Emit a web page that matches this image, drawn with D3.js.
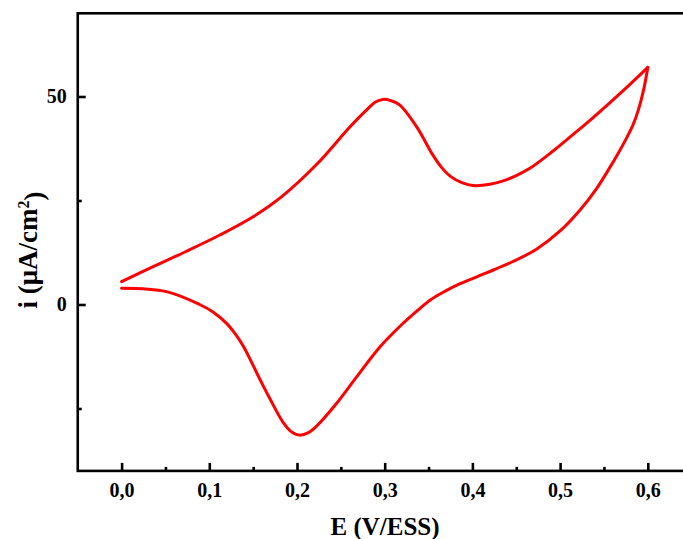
<!DOCTYPE html>
<html>
<head>
<meta charset="utf-8">
<script src="https://cdn.jsdelivr.net/npm/d3@7"></script>
<style>
  html, body { margin: 0; padding: 0; background: #fff; overflow: hidden; }
  svg { display: block; }
  text { font-family: "Liberation Serif", "Times New Roman", serif; font-weight: bold; fill: #000; }
</style>
</head>
<body>
<div id="chart"></div>
<script>
// Forward (anodic) scan: potential E (V) and current density i (µA/cm²)
const forwardE = [0.000, 0.036, 0.074, 0.112, 0.150, 0.183, 0.2225, 0.260, 0.280, 0.289, 0.298, 0.307, 0.317, 0.3365, 0.355, 0.365, 0.375, 0.388, 0.401, 0.420, 0.435, 0.450, 0.466, 0.492, 0.515, 0.538, 0.576, 0.600];
const forwardI = [5.5, 9.1, 12.8, 16.7, 21.1, 26.0, 33.7, 42.6, 46.9, 48.6, 49.3, 49.0, 48.0, 42.7, 35.9, 32.9, 30.8, 29.3, 28.6, 28.9, 29.7, 31.0, 32.8, 36.9, 40.9, 45.0, 52.2, 57.0];

// Reverse (cathodic) scan
const reverseE = [0.600, 0.595, 0.589, 0.583, 0.575, 0.565, 0.554, 0.542, 0.523, 0.500, 0.473, 0.447, 0.416, 0.386, 0.368, 0.352, 0.337, 0.321, 0.295, 0.268, 0.245, 0.2225, 0.213, 0.203, 0.193, 0.184, 0.169, 0.158, 0.139, 0.130, 0.120, 0.105, 0.089, 0.051, 0.000];
const reverseI = [57.0, 51.4, 46.6, 43.1, 39.7, 35.9, 32.0, 28.0, 22.8, 17.7, 13.3, 10.4, 7.6, 5.0, 3.1, 1.1, -1.5, -4.5, -10.1, -17.4, -23.8, -29.2, -30.8, -31.4, -30.5, -28.3, -22.6, -18.1, -10.1, -7.2, -4.6, -1.9, 0.0, 3.1, 3.9];

const xMajorTicks = [0.0, 0.1, 0.2, 0.3, 0.4, 0.5, 0.6];
const xMinorTicks = [0.05, 0.15, 0.25, 0.35, 0.45, 0.55];
const yMajorTicks = [0, 50];
const yMinorTicks = [-25, 25];
const xTitle = "E (V/ESS)";

const W = 683, H = 539;
const xDomain = [-0.05, 0.65];
const yDomain = [-40, 70];

const svg = d3.select("#chart").append("svg").attr("width", W).attr("height", H);

const x = d3.scaleLinear().domain(xDomain).range([77.75, 691.65]);
const y = d3.scaleLinear().domain(yDomain).range([470.9, 13.3]);

const fmt = d => d3.format(".1f")(d).replace(".", ",");

// Frame
svg.append("rect")
  .attr("x", x(xDomain[0])).attr("y", y(yDomain[1]))
  .attr("width", x(xDomain[1]) - x(xDomain[0]))
  .attr("height", y(yDomain[0]) - y(yDomain[1]))
  .attr("fill", "none").attr("stroke", "#000").attr("stroke-width", 2.6);

// X axis ticks (inward)
const xAxisG = svg.append("g").attr("transform", `translate(0,${y(yDomain[0])})`);
xAxisG.call(d3.axisBottom(x).tickValues(xMajorTicks).tickSizeInner(-8).tickSizeOuter(0).tickFormat(fmt));
xAxisG.select(".domain").remove();
xAxisG.selectAll(".tick line").attr("stroke", "#000").attr("stroke-width", 2.6);
xAxisG.selectAll(".tick text").attr("y", 12).attr("dy", "0.71em").style("font-size", "20px");
const xMinG = svg.append("g").attr("transform", `translate(0,${y(yDomain[0])})`);
xMinG.call(d3.axisBottom(x).tickValues(xMinorTicks).tickSizeInner(-4).tickSizeOuter(0).tickFormat(""));
xMinG.select(".domain").remove();
xMinG.selectAll(".tick line").attr("stroke", "#000").attr("stroke-width", 2.6);

// Y axis ticks (inward)
const yAxisG = svg.append("g").attr("transform", `translate(${x(xDomain[0])},0)`);
yAxisG.call(d3.axisLeft(y).tickValues(yMajorTicks).tickSizeInner(-8).tickSizeOuter(0).tickFormat(d3.format("d")));
yAxisG.select(".domain").remove();
yAxisG.selectAll(".tick line").attr("stroke", "#000").attr("stroke-width", 2.6);
yAxisG.selectAll(".tick text").attr("x", -11).style("font-size", "20px");
const yMinG = svg.append("g").attr("transform", `translate(${x(xDomain[0])},0)`);
yMinG.call(d3.axisLeft(y).tickValues(yMinorTicks).tickSizeInner(-4).tickSizeOuter(0).tickFormat(""));
yMinG.select(".domain").remove();
yMinG.selectAll(".tick line").attr("stroke", "#000").attr("stroke-width", 2.6);

svg.selectAll(".tick text").attr("fill", "#000").style("font-family", "'Liberation Serif', 'Times New Roman', serif").style("font-weight", "bold");

// Curves
const fwd = forwardE.map((e, k) => [e, forwardI[k]]);
const rev = reverseE.map((e, k) => [e, reverseI[k]]);
const line = d3.line().x(d => x(d[0])).y(d => y(d[1])).curve(d3.curveCatmullRom.alpha(0.5));
[fwd, rev].forEach(data => {
  svg.append("path").datum(data).attr("d", line)
    .attr("fill", "none").attr("stroke", "#ff0000").attr("stroke-width", 3)
    .attr("stroke-linejoin", "round").attr("stroke-linecap", "round");
});

// Axis titles
svg.append("text").attr("x", 385).attr("y", 535).attr("text-anchor", "middle")
  .style("font-size", "25px").text(xTitle);

const yt = svg.append("text").attr("transform", `translate(37,250) rotate(-90)`)
  .attr("text-anchor", "middle").style("font-size", "27px");
yt.append("tspan").text("i (μA/cm");
yt.append("tspan").attr("dy", "-0.5em").style("font-size", "16px").text("2");
yt.append("tspan").attr("dy", "0.5em").text(")");
</script>
</body>
</html>
